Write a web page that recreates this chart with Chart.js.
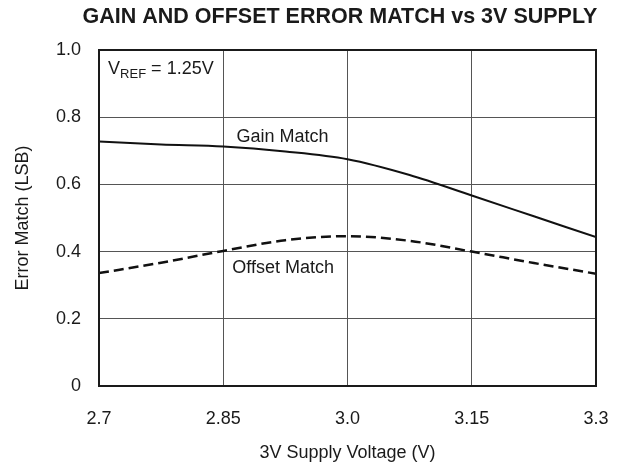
<!DOCTYPE html>
<html>
<head>
<meta charset="utf-8">
<script src="https://cdn.jsdelivr.net/npm/chart.js@4.4.0/dist/chart.umd.min.js"></script>
<style>
html, body { margin: 0; padding: 0; background: #fff; }
#wrap { width: 618px; height: 468px; }
</style>
</head>
<body>
<div id="wrap"><canvas id="chart" width="618" height="468"></canvas></div>
<script>
// supply voltage (V)
var supply = [2.7, 2.775, 2.85, 2.925, 3.0, 3.075, 3.15, 3.225, 3.3];
// error match (LSB)
var gainMatch = [0.728, 0.719, 0.713, 0.698, 0.675, 0.628, 0.567, 0.505, 0.443];
var offsetMatch = [0.336, 0.367, 0.402, 0.434, 0.446, 0.432, 0.400, 0.366, 0.334];

var xTicks = [2.7, 2.85, 3.0, 3.15, 3.3];
var xTickLabels = ['2.7', '2.85', '3.0', '3.15', '3.3'];
var yTicks = [0, 0.2, 0.4, 0.6, 0.8, 1.0];
var yTickLabels = ['0', '0.2', '0.4', '0.6', '0.8', '1.0'];

var FONT = '"Liberation Sans", Arial, Helvetica, sans-serif';

function pts(ys) {
  return supply.map(function (x, i) { return { x: x, y: ys[i] }; });
}

var textPlugin = {
  id: 'texts',
  afterDraw: function (chart) {
    var ctx = chart.ctx, a = chart.chartArea;
    var xs = chart.scales.x, ys = chart.scales.y;
    ctx.save();
    // frame
    ctx.strokeStyle = '#1a1a1a';
    ctx.lineWidth = 2;
    ctx.strokeRect(a.left, a.top, a.right - a.left, a.bottom - a.top);

    ctx.fillStyle = '#1a1a1a';
    // title
    ctx.font = 'bold 21.5px ' + FONT;
    ctx.textAlign = 'center';
    ctx.textBaseline = 'middle';
    ctx.fillText('GAIN AND OFFSET ERROR MATCH vs 3V SUPPLY', 340, 17);

    // axis titles
    ctx.font = '18px ' + FONT;
    ctx.fillText('3V Supply Voltage (V)', (a.left + a.right) / 2, 453);
    ctx.save();
    ctx.translate(23, (a.top + a.bottom) / 2);
    ctx.rotate(-Math.PI / 2);
    ctx.fillText('Error Match (LSB)', 0, 0);
    ctx.restore();

    // curve labels
    ctx.textAlign = 'left';
    ctx.textBaseline = 'alphabetic';
    ctx.fillText('Gain Match', xs.getPixelForValue(2.866), ys.getPixelForValue(0.727));
    ctx.fillText('Offset Match', xs.getPixelForValue(2.861), ys.getPixelForValue(0.336));

    // V_REF note
    var x0 = xs.getPixelForValue(2.711), y0 = ys.getPixelForValue(0.929);
    ctx.font = '18px ' + FONT;
    ctx.fillText('V', x0, y0);
    var w = ctx.measureText('V').width;
    ctx.font = '13px ' + FONT;
    ctx.fillText('REF', x0 + w, y0 + 4);
    var w2 = ctx.measureText('REF').width;
    ctx.font = '18px ' + FONT;
    ctx.fillText(' = 1.25V', x0 + w + w2, y0);
    ctx.restore();
  }
};

new Chart(document.getElementById('chart'), {
  type: 'line',
  data: {
    datasets: [
      {
        label: 'Gain Match',
        data: pts(gainMatch),
        borderColor: '#111',
        borderWidth: 2,
        pointRadius: 0,
        cubicInterpolationMode: 'monotone',
        fill: false
      },
      {
        label: 'Offset Match',
        data: pts(offsetMatch),
        borderColor: '#111',
        borderWidth: 2.5,
        borderDash: [10, 5],
        pointRadius: 0,
        cubicInterpolationMode: 'monotone',
        fill: false
      }
    ]
  },
  options: {
    responsive: false,
    animation: false,
    layout: { padding: { left: 0, right: 22, top: 50, bottom: 0 } },
    plugins: {
      legend: { display: false },
      title: { display: false },
      tooltip: { enabled: false }
    },
    scales: {
      x: {
        type: 'linear',
        min: 2.7,
        max: 3.3,
        afterBuildTicks: function (s) { s.ticks = xTicks.map(function (v) { return { value: v }; }); },
        afterFit: function (s) { s.height = 82; s.paddingLeft = 0; s.paddingRight = 0; },
        grid: { color: '#555', lineWidth: 1, drawTicks: false },
        border: { display: false },
        ticks: {
          padding: 22,
          color: '#1a1a1a',
          font: { family: FONT, size: 18 },
          maxRotation: 0,
          autoSkip: false,
          callback: function (v) { var i = xTicks.indexOf(v); return i < 0 ? '' : xTickLabels[i]; }
        }
      },
      y: {
        min: 0,
        max: 1,
        afterBuildTicks: function (s) { s.ticks = yTicks.map(function (v) { return { value: v }; }); },
        afterFit: function (s) { s.width = 99; s.paddingTop = 0; s.paddingBottom = 0; },
        grid: { color: '#555', lineWidth: 1, drawTicks: false },
        border: { display: false },
        ticks: {
          padding: 18,
          color: '#1a1a1a',
          font: { family: FONT, size: 18 },
          autoSkip: false,
          callback: function (v) { var i = yTicks.indexOf(v); return i < 0 ? '' : yTickLabels[i]; }
        }
      }
    }
  },
  plugins: [textPlugin]
});
</script>
</body>
</html>
